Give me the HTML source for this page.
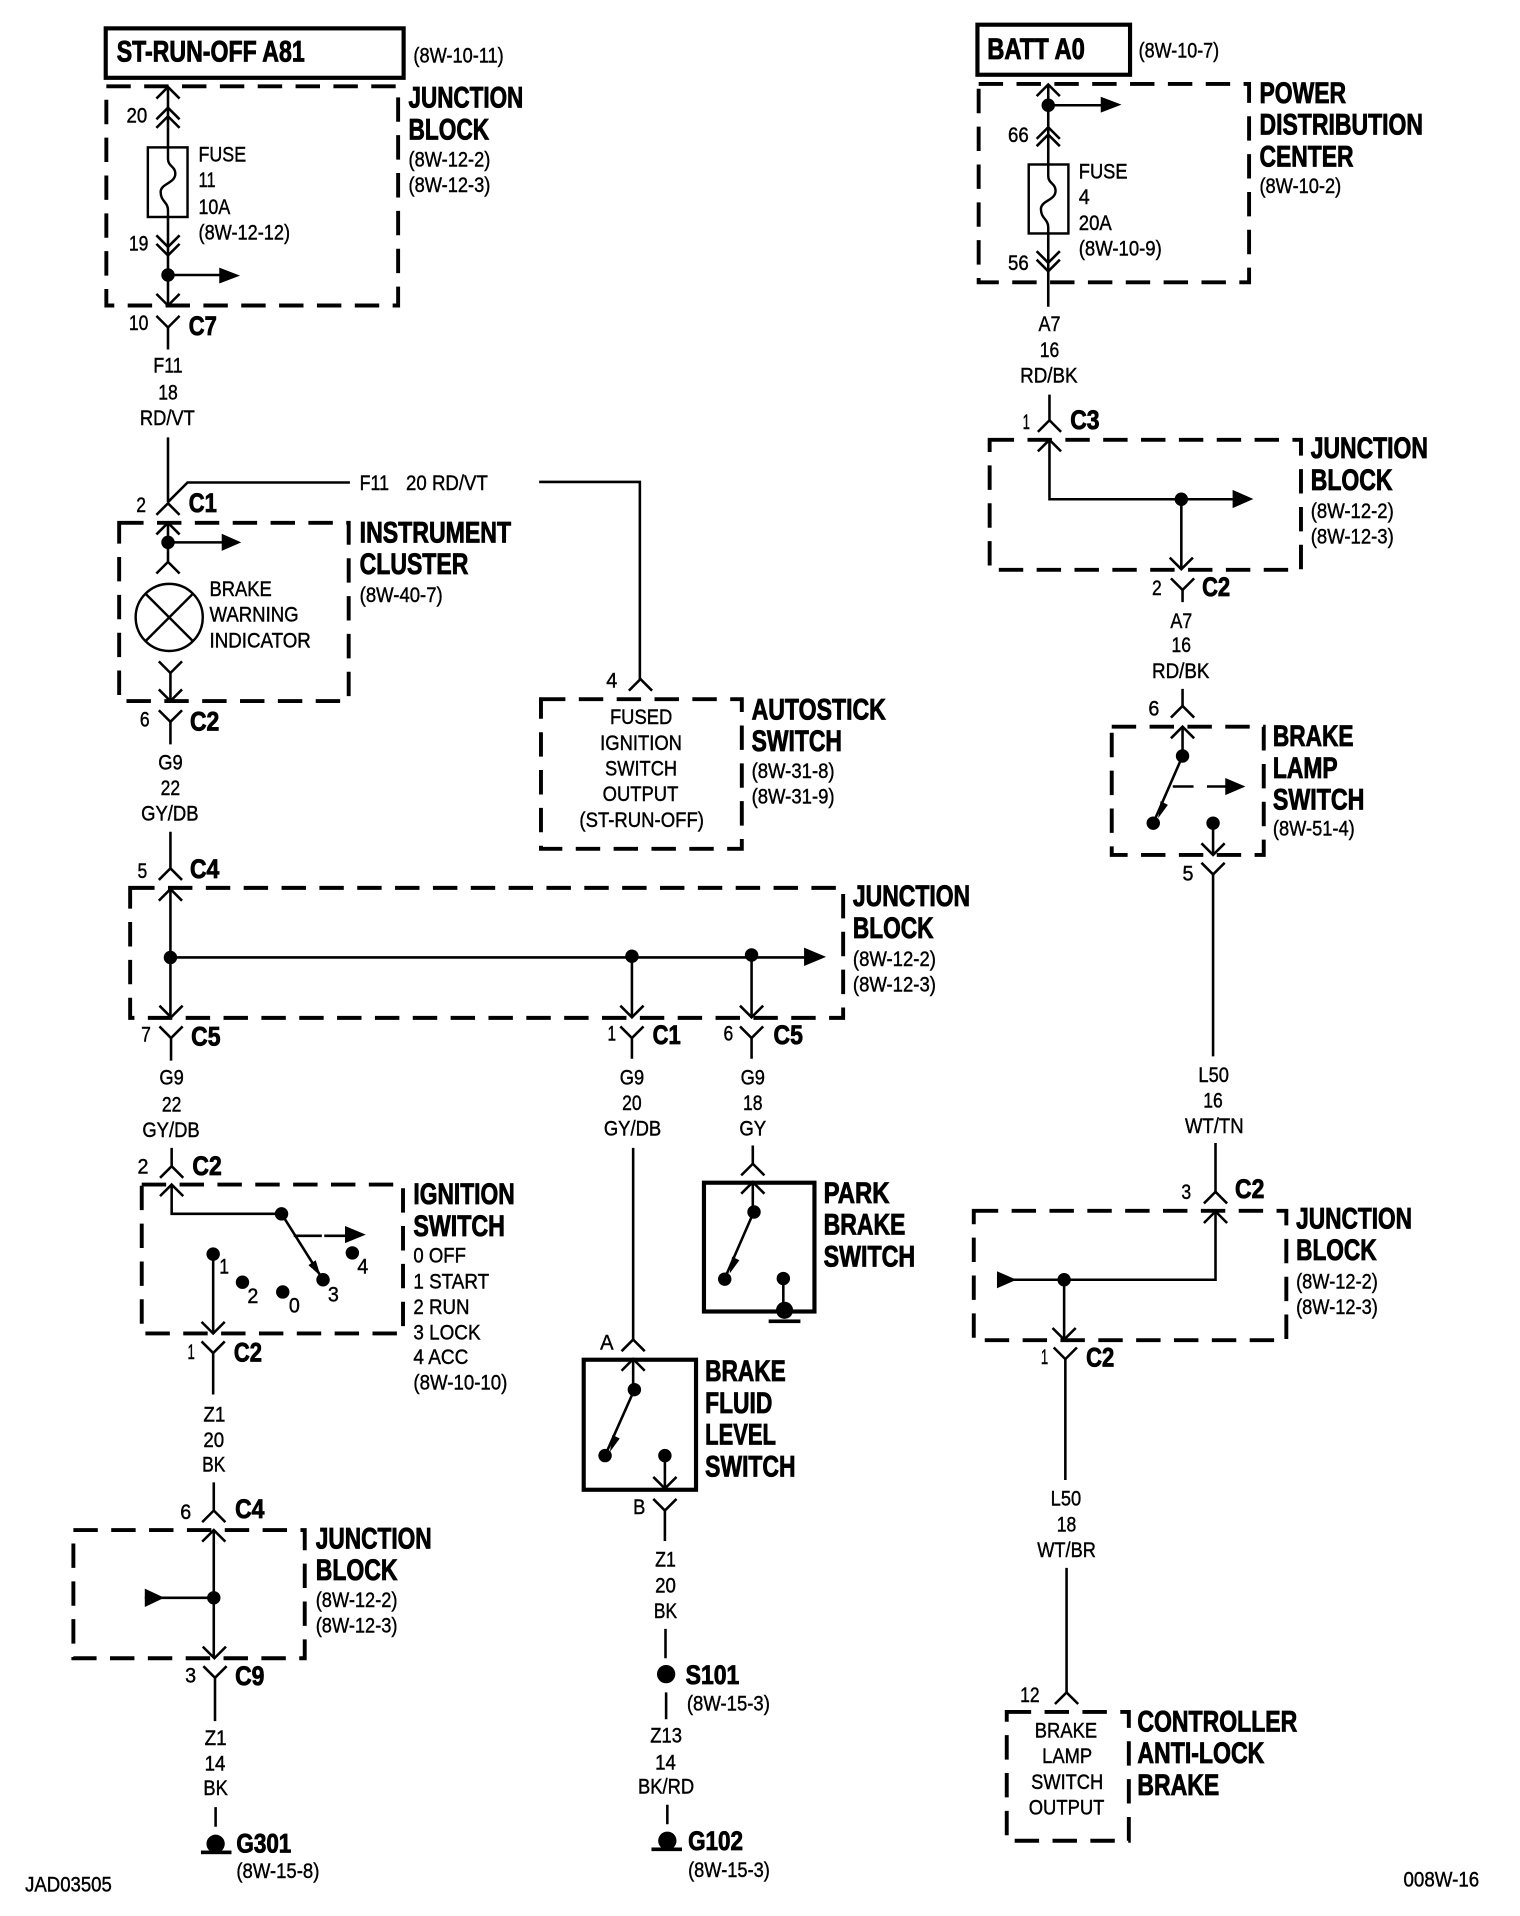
<!DOCTYPE html>
<html><head><meta charset="utf-8">
<style>
html,body{margin:0;padding:0;background:#fff}
svg{display:block}
text{font-family:"Liberation Sans",sans-serif;fill:#000;stroke:none;white-space:pre}
.b{font-weight:bold;font-size:24px;stroke:#000;stroke-width:.7px}
.c{font-weight:bold;font-size:22px;stroke:#000;stroke-width:.7px}
.s{font-size:17.5px;stroke:#000;stroke-width:.35px}
.w{fill:none;stroke:#000;stroke-width:2.1}
.d{fill:none;stroke:#000;stroke-width:3.2;stroke-dasharray:20 11}
.r{fill:none;stroke:#000;stroke-width:3.4}
.f{fill:none;stroke:#000;stroke-width:2}
</style></head>
<body>
<svg xmlns="http://www.w3.org/2000/svg" width="1520" height="1916" viewBox="0 0 1245 1569.3">
<rect width="1245" height="1570" fill="#fff"/>
<defs>
<path id="u" d="M-9.5 9.5L0 0L9.5 9.5" fill="none" stroke="#000" stroke-width="2.1"/>
<path id="v" d="M-9.5 -9.5L0 0L9.5 -9.5" fill="none" stroke="#000" stroke-width="2.1"/>
<path id="wave" d="M0 0V10C0 16 6 16 6 22C6 30 -6 30 -6 37C-6 45 0 45 0 52V57" fill="none" stroke="#000" stroke-width="2"/>
</defs>
<g transform="translate(.6 .2)">

<!-- dashed boxes -->
<rect class="d" x="86.5" y="70.5" width="239" height="179.5"/>
<rect class="d" x="97" y="428" width="188" height="146"/>
<rect class="d" x="442.5" y="572.5" width="164.5" height="122.5"/>
<rect class="d" x="106" y="727" width="584" height="106.5"/>
<rect class="d" x="115.5" y="970" width="214" height="122"/>
<rect class="d" x="59.5" y="1253" width="189.5" height="105"/>
<rect class="d" x="801" y="68.5" width="221.5" height="162.5"/>
<rect class="d" x="810" y="360" width="255" height="106.5"/>
<rect class="d" x="910" y="595" width="124.5" height="105"/>
<rect class="d" x="797" y="991.5" width="256" height="106"/>
<rect class="d" x="824" y="1402" width="100" height="105.5"/>

<!-- solid boxes -->
<rect class="r" x="86" y="23" width="244" height="40.5"/>
<rect class="r" x="800" y="20" width="125" height="41"/>
<rect class="r" x="477.5" y="1113.5" width="92" height="106.5"/>
<rect class="r" x="576" y="968.5" width="90.5" height="105.5"/>
<rect class="f" x="120.5" y="120.5" width="32.5" height="57" />
<rect class="f" x="842" y="134.5" width="32.5" height="56.5"/>
<circle class="f" cx="138" cy="505.5" r="27.5"/>
<path class="f" d="M118.5 486L157.5 525M157.5 486L118.5 525"/>

<!-- wires -->
<path class="w" d="M137 71V120M137 177V250M137 225H180M137 268V286M137 358V411M137 411L153 395H286M441 394.5H523.5V556
M137 428V460M137 444H183M139 551V574M139 591V609.5M139 681V711M139 728V833H139.5M139 784H660M517 783V833M615 783V833
M139.5 850V868.5M517 850V867M615 850V867M140 940V955M140 970V994H230M230 994L264 1048M174 1027V1092M174 1108V1142
M174.5 1214V1237M174.5 1253V1358M118 1308.5H174.5M175.5 1374V1409.5M176 1480V1496M518 940V1097M518 1113V1138M519 1138L495 1192M544 1192V1219M544 1237V1262
M544.5 1334V1358M545 1386V1408M546 1478V1494M616 938V953M616 968V992M617 992L593 1047M641 1047V1073
M858 69V134M858 191V251M858 86H903M859 323V344M859 360V408.7H1010M967 408.7V466M968 483V493M968 564V578M968 595V619M968 619L944 674M993 674V700M993 716V865
M995 936V976M995 992V1048H820M871 1048V1097M872 1113V1212M873 1284V1386"/>
<use href="#wave" x="137" y="120"/>
<use href="#wave" x="858" y="134"/>
<path d="M240 1012H263M265 1012H283M960 644H977M988 644H1004" class="w"/>

<!-- connector chevrons -->
<use href="#u" x="137" y="71"/><use href="#u" x="137" y="88"/><use href="#u" x="137" y="95"/><use href="#u" x="137" y="412"/><use href="#u" x="137" y="428"/><use href="#u" x="137" y="460"/>
<use href="#u" x="524" y="556"/><use href="#u" x="139" y="711"/><use href="#u" x="139" y="728"/><use href="#u" x="140" y="955"/><use href="#u" x="140" y="970"/>
<use href="#u" x="174.5" y="1237"/><use href="#u" x="174.5" y="1253"/><use href="#u" x="518" y="1097"/><use href="#u" x="518" y="1113"/><use href="#u" x="616" y="953"/><use href="#u" x="616" y="968"/>
<use href="#u" x="858" y="69"/><use href="#u" x="858" y="104"/><use href="#u" x="858" y="110"/><use href="#u" x="859" y="344"/><use href="#u" x="859" y="360"/>
<use href="#u" x="968" y="578"/><use href="#u" x="968" y="595"/><use href="#u" x="995" y="976"/><use href="#u" x="995" y="992"/><use href="#u" x="873" y="1386"/>
<use href="#v" x="137" y="202"/><use href="#v" x="137" y="209"/><use href="#v" x="137" y="250"/><use href="#v" x="137" y="268"/><use href="#v" x="139" y="551"/><use href="#v" x="139" y="574"/><use href="#v" x="139" y="591"/>
<use href="#v" x="139.5" y="833"/><use href="#v" x="517" y="833"/><use href="#v" x="615" y="833"/><use href="#v" x="139.5" y="850"/><use href="#v" x="517" y="850"/><use href="#v" x="615" y="850"/>
<use href="#v" x="174" y="1092"/><use href="#v" x="174" y="1108"/><use href="#v" x="175" y="1358"/><use href="#v" x="175.5" y="1374"/><use href="#v" x="544" y="1219"/><use href="#v" x="544" y="1237"/>
<use href="#v" x="858" y="215"/><use href="#v" x="858" y="222"/><use href="#v" x="967" y="466"/><use href="#v" x="968" y="483"/><use href="#v" x="993" y="700"/><use href="#v" x="993" y="716"/><use href="#v" x="871" y="1097"/><use href="#v" x="872" y="1113"/>

<!-- dots and arrowheads -->
<g fill="#000">
<circle cx="137" cy="225" r="5.5"/><circle cx="137" cy="444" r="5.5"/><circle cx="139" cy="784" r="5.5"/><circle cx="517" cy="783" r="5.5"/><circle cx="615" cy="782" r="5.5"/>
<circle cx="230" cy="994" r="5.5"/><circle cx="264" cy="1048" r="5.5"/><circle cx="174" cy="1027" r="5.5"/><circle cx="198" cy="1050" r="5.5"/><circle cx="231" cy="1058" r="5.5"/><circle cx="288" cy="1026" r="5.5"/>
<circle cx="174.5" cy="1308.5" r="5.5"/><circle cx="519" cy="1138" r="5.5"/><circle cx="495" cy="1192" r="5.5"/><circle cx="544" cy="1192" r="5.5"/>
<circle cx="617" cy="992.5" r="5.5"/><circle cx="593" cy="1047.5" r="5.5"/><circle cx="641" cy="1047" r="5.5"/><circle cx="545" cy="1371" r="7.5"/>
<circle cx="858" cy="86" r="5.5"/><circle cx="967" cy="408.7" r="5.5"/><circle cx="968" cy="619" r="5.5"/><circle cx="944" cy="674" r="5.5"/><circle cx="993" cy="674" r="5.5"/><circle cx="871" cy="1048" r="5.5"/>
<path d="M179 219L196 225.5L179 232ZM181 437L197 444L181 451ZM658 776L676 783.5L658 791ZM282 1004L299 1011L282 1018ZM118 1301L134 1308.5L118 1316ZM901 79L918 85.5L901 92ZM1009 401L1026 408.5L1009 416ZM1003 637L1019.5 644L1003 651ZM816 1041L832 1048L816 1055Z"/>
<path d="M262 1045L252 1036L258 1032ZM948 670L950 656L956 659ZM499 1189L501 1175L507 1178ZM597 1043L599 1029L605 1032Z"/>
<circle cx="176" cy="1510" r="7.5"/><circle cx="546" cy="1507.5" r="7.5"/><circle cx="642" cy="1073" r="7"/>
<rect x="164" y="1515.5" width="25" height="3"/><rect x="533" y="1513" width="25" height="3"/><rect x="629" y="1080.5" width="26" height="3"/>
</g>

<!-- bold labels -->
<g class="B">
<text class="b" x="95" y="50" textLength="154" lengthAdjust="spacingAndGlyphs">ST-RUN-OFF A81</text>
<text class="b" x="334" y="88" textLength="94" lengthAdjust="spacingAndGlyphs">JUNCTION</text>
<text class="b" x="334" y="114" textLength="66" lengthAdjust="spacingAndGlyphs">BLOCK</text>
<text class="b" x="294" y="444" textLength="124" lengthAdjust="spacingAndGlyphs">INSTRUMENT</text>
<text class="b" x="294" y="470" textLength="89" lengthAdjust="spacingAndGlyphs">CLUSTER</text>
<text class="b" x="615" y="589" textLength="110" lengthAdjust="spacingAndGlyphs">AUTOSTICK</text>
<text class="b" x="615" y="615" textLength="74" lengthAdjust="spacingAndGlyphs">SWITCH</text>
<text class="b" x="698" y="742" textLength="96" lengthAdjust="spacingAndGlyphs">JUNCTION</text>
<text class="b" x="698" y="768" textLength="66" lengthAdjust="spacingAndGlyphs">BLOCK</text>
<text class="b" x="338" y="986" textLength="83" lengthAdjust="spacingAndGlyphs">IGNITION</text>
<text class="b" x="338" y="1012" textLength="75" lengthAdjust="spacingAndGlyphs">SWITCH</text>
<text class="b" x="674" y="985" textLength="54" lengthAdjust="spacingAndGlyphs">PARK</text>
<text class="b" x="674" y="1011" textLength="67" lengthAdjust="spacingAndGlyphs">BRAKE</text>
<text class="b" x="674" y="1037" textLength="75" lengthAdjust="spacingAndGlyphs">SWITCH</text>
<text class="b" x="577" y="1131" textLength="66" lengthAdjust="spacingAndGlyphs">BRAKE</text>
<text class="b" x="577" y="1157" textLength="55" lengthAdjust="spacingAndGlyphs">FLUID</text>
<text class="b" x="577" y="1183" textLength="58" lengthAdjust="spacingAndGlyphs">LEVEL</text>
<text class="b" x="577" y="1209" textLength="74" lengthAdjust="spacingAndGlyphs">SWITCH</text>
<text class="b" x="258" y="1268" textLength="95" lengthAdjust="spacingAndGlyphs">JUNCTION</text>
<text class="b" x="258" y="1294" textLength="67" lengthAdjust="spacingAndGlyphs">BLOCK</text>
<text class="b" x="808" y="48" textLength="80" lengthAdjust="spacingAndGlyphs">BATT A0</text>
<text class="b" x="1031" y="84" textLength="71" lengthAdjust="spacingAndGlyphs">POWER</text>
<text class="b" x="1031" y="110" textLength="134" lengthAdjust="spacingAndGlyphs">DISTRIBUTION</text>
<text class="b" x="1031" y="136" textLength="77" lengthAdjust="spacingAndGlyphs">CENTER</text>
<text class="b" x="1073" y="375" textLength="96" lengthAdjust="spacingAndGlyphs">JUNCTION</text>
<text class="b" x="1073" y="401" textLength="67" lengthAdjust="spacingAndGlyphs">BLOCK</text>
<text class="b" x="1042" y="611" textLength="66" lengthAdjust="spacingAndGlyphs">BRAKE</text>
<text class="b" x="1042" y="637" textLength="53" lengthAdjust="spacingAndGlyphs">LAMP</text>
<text class="b" x="1042" y="663" textLength="75" lengthAdjust="spacingAndGlyphs">SWITCH</text>
<text class="b" x="1061" y="1006" textLength="95" lengthAdjust="spacingAndGlyphs">JUNCTION</text>
<text class="b" x="1061" y="1032" textLength="66" lengthAdjust="spacingAndGlyphs">BLOCK</text>
<text class="b" x="931" y="1418" textLength="131" lengthAdjust="spacingAndGlyphs">CONTROLLER</text>
<text class="b" x="931" y="1444" textLength="104" lengthAdjust="spacingAndGlyphs">ANTI-LOCK</text>
<text class="b" x="931" y="1470" textLength="67" lengthAdjust="spacingAndGlyphs">BRAKE</text>
</g>

<!-- connector IDs -->
<g>
<text class="c" x="154" y="274" textLength="23" lengthAdjust="spacingAndGlyphs">C7</text>
<text class="c" x="154" y="419" textLength="23" lengthAdjust="spacingAndGlyphs">C1</text>
<text class="c" x="155" y="598" textLength="24" lengthAdjust="spacingAndGlyphs">C2</text>
<text class="c" x="155" y="719" textLength="24" lengthAdjust="spacingAndGlyphs">C4</text>
<text class="c" x="156" y="856" textLength="24" lengthAdjust="spacingAndGlyphs">C5</text>
<text class="c" x="534" y="855" textLength="23" lengthAdjust="spacingAndGlyphs">C1</text>
<text class="c" x="633" y="855" textLength="24" lengthAdjust="spacingAndGlyphs">C5</text>
<text class="c" x="157" y="962" textLength="24" lengthAdjust="spacingAndGlyphs">C2</text>
<text class="c" x="191" y="1115" textLength="23" lengthAdjust="spacingAndGlyphs">C2</text>
<text class="c" x="192" y="1243" textLength="24" lengthAdjust="spacingAndGlyphs">C4</text>
<text class="c" x="192" y="1380" textLength="24" lengthAdjust="spacingAndGlyphs">C9</text>
<text class="c" x="193" y="1517" textLength="45" lengthAdjust="spacingAndGlyphs">G301</text>
<text class="c" x="561" y="1379" textLength="44" lengthAdjust="spacingAndGlyphs">S101</text>
<text class="c" x="563" y="1515" textLength="45" lengthAdjust="spacingAndGlyphs">G102</text>
<text class="c" x="876" y="351" textLength="24" lengthAdjust="spacingAndGlyphs">C3</text>
<text class="c" x="984" y="488" textLength="23" lengthAdjust="spacingAndGlyphs">C2</text>
<text class="c" x="1011" y="981" textLength="24" lengthAdjust="spacingAndGlyphs">C2</text>
<text class="c" x="889" y="1119" textLength="23" lengthAdjust="spacingAndGlyphs">C2</text>
</g>

<!-- small text -->
<g>
<text class="s" x="338" y="51" textLength="74" lengthAdjust="spacingAndGlyphs">(8W-10-11)</text>
<text class="s" x="334" y="136" textLength="67" lengthAdjust="spacingAndGlyphs">(8W-12-2)</text>
<text class="s" x="334" y="157" textLength="67" lengthAdjust="spacingAndGlyphs">(8W-12-3)</text>
<text class="s" x="103" y="100" textLength="17" lengthAdjust="spacingAndGlyphs">20</text>
<text class="s" x="105" y="205" textLength="16" lengthAdjust="spacingAndGlyphs">19</text>
<text class="s" x="162" y="132" textLength="39" lengthAdjust="spacingAndGlyphs">FUSE</text>
<text class="s" x="162" y="153" textLength="14" lengthAdjust="spacingAndGlyphs">11</text>
<text class="s" x="162" y="175" textLength="26" lengthAdjust="spacingAndGlyphs">10A</text>
<text class="s" x="162" y="196" textLength="75" lengthAdjust="spacingAndGlyphs">(8W-12-12)</text>
<text class="s" x="105" y="270" textLength="16" lengthAdjust="spacingAndGlyphs">10</text>
<text class="s" x="125" y="305" textLength="24" lengthAdjust="spacingAndGlyphs">F11</text>
<text class="s" x="129" y="327" textLength="16" lengthAdjust="spacingAndGlyphs">18</text>
<text class="s" x="114" y="348" textLength="45" lengthAdjust="spacingAndGlyphs">RD/VT</text>
<text class="s" x="294" y="401" textLength="24" lengthAdjust="spacingAndGlyphs">F11</text>
<text class="s" x="332" y="401" textLength="67" lengthAdjust="spacingAndGlyphs">20 RD/VT</text>
<text class="s" x="111" y="419" textLength="8" lengthAdjust="spacingAndGlyphs">2</text>
<text class="s" x="294" y="493" textLength="68" lengthAdjust="spacingAndGlyphs">(8W-40-7)</text>
<text class="s" x="171" y="488" textLength="51" lengthAdjust="spacingAndGlyphs">BRAKE</text>
<text class="s" x="171" y="509" textLength="73" lengthAdjust="spacingAndGlyphs">WARNING</text>
<text class="s" x="171" y="530" textLength="83" lengthAdjust="spacingAndGlyphs">INDICATOR</text>
<text class="s" x="114" y="595" textLength="8" lengthAdjust="spacingAndGlyphs">6</text>
<text class="s" x="129" y="630" textLength="20" lengthAdjust="spacingAndGlyphs">G9</text>
<text class="s" x="131" y="651" textLength="16" lengthAdjust="spacingAndGlyphs">22</text>
<text class="s" x="115" y="672" textLength="47" lengthAdjust="spacingAndGlyphs">GY/DB</text>
<text class="s" x="112" y="719" textLength="8" lengthAdjust="spacingAndGlyphs">5</text>
<text class="s" x="496" y="563" textLength="9" lengthAdjust="spacingAndGlyphs">4</text>
<text class="s" x="499" y="593" textLength="51" lengthAdjust="spacingAndGlyphs">FUSED</text>
<text class="s" x="491" y="614" textLength="67" lengthAdjust="spacingAndGlyphs">IGNITION</text>
<text class="s" x="495" y="635" textLength="59" lengthAdjust="spacingAndGlyphs">SWITCH</text>
<text class="s" x="493" y="656" textLength="62" lengthAdjust="spacingAndGlyphs">OUTPUT</text>
<text class="s" x="474" y="677" textLength="102" lengthAdjust="spacingAndGlyphs">(ST-RUN-OFF)</text>
<text class="s" x="615" y="637" textLength="68" lengthAdjust="spacingAndGlyphs">(8W-31-8)</text>
<text class="s" x="615" y="658" textLength="68" lengthAdjust="spacingAndGlyphs">(8W-31-9)</text>
<text class="s" x="698" y="791" textLength="68" lengthAdjust="spacingAndGlyphs">(8W-12-2)</text>
<text class="s" x="698" y="812" textLength="68" lengthAdjust="spacingAndGlyphs">(8W-12-3)</text>
<text class="s" x="115" y="853" textLength="8" lengthAdjust="spacingAndGlyphs">7</text>
<text class="s" x="497" y="852" textLength="7" lengthAdjust="spacingAndGlyphs">1</text>
<text class="s" x="592" y="852" textLength="8" lengthAdjust="spacingAndGlyphs">6</text>
<text class="s" x="130" y="888" textLength="20" lengthAdjust="spacingAndGlyphs">G9</text>
<text class="s" x="132" y="910" textLength="16" lengthAdjust="spacingAndGlyphs">22</text>
<text class="s" x="116" y="931" textLength="47" lengthAdjust="spacingAndGlyphs">GY/DB</text>
<text class="s" x="507" y="888" textLength="20" lengthAdjust="spacingAndGlyphs">G9</text>
<text class="s" x="509" y="909" textLength="16" lengthAdjust="spacingAndGlyphs">20</text>
<text class="s" x="494" y="930" textLength="47" lengthAdjust="spacingAndGlyphs">GY/DB</text>
<text class="s" x="606" y="888" textLength="20" lengthAdjust="spacingAndGlyphs">G9</text>
<text class="s" x="608" y="909" textLength="16" lengthAdjust="spacingAndGlyphs">18</text>
<text class="s" x="605" y="930" textLength="22" lengthAdjust="spacingAndGlyphs">GY</text>
<text class="s" x="112" y="961" textLength="9" lengthAdjust="spacingAndGlyphs">2</text>
<text class="s" x="179" y="1043" textLength="8" lengthAdjust="spacingAndGlyphs">1</text>
<text class="s" x="202" y="1067" textLength="9" lengthAdjust="spacingAndGlyphs">2</text>
<text class="s" x="236" y="1075" textLength="9" lengthAdjust="spacingAndGlyphs">0</text>
<text class="s" x="268" y="1066" textLength="9" lengthAdjust="spacingAndGlyphs">3</text>
<text class="s" x="292" y="1043" textLength="9" lengthAdjust="spacingAndGlyphs">4</text>
<text class="s" x="338" y="1034" textLength="43" lengthAdjust="spacingAndGlyphs">0 OFF</text>
<text class="s" x="338" y="1055" textLength="62" lengthAdjust="spacingAndGlyphs">1 START</text>
<text class="s" x="338" y="1076" textLength="46" lengthAdjust="spacingAndGlyphs">2 RUN</text>
<text class="s" x="338" y="1097" textLength="55" lengthAdjust="spacingAndGlyphs">3 LOCK</text>
<text class="s" x="338" y="1117" textLength="45" lengthAdjust="spacingAndGlyphs">4 ACC</text>
<text class="s" x="338" y="1138" textLength="77" lengthAdjust="spacingAndGlyphs">(8W-10-10)</text>
<text class="s" x="153" y="1113" textLength="6" lengthAdjust="spacingAndGlyphs">1</text>
<text class="s" x="166" y="1164" textLength="18" lengthAdjust="spacingAndGlyphs">Z1</text>
<text class="s" x="166" y="1185" textLength="17" lengthAdjust="spacingAndGlyphs">20</text>
<text class="s" x="165" y="1205" textLength="19" lengthAdjust="spacingAndGlyphs">BK</text>
<text class="s" x="147" y="1244" textLength="9" lengthAdjust="spacingAndGlyphs">6</text>
<text class="s" x="258" y="1316" textLength="67" lengthAdjust="spacingAndGlyphs">(8W-12-2)</text>
<text class="s" x="258" y="1337" textLength="67" lengthAdjust="spacingAndGlyphs">(8W-12-3)</text>
<text class="s" x="151" y="1378" textLength="9" lengthAdjust="spacingAndGlyphs">3</text>
<text class="s" x="167" y="1429" textLength="18" lengthAdjust="spacingAndGlyphs">Z1</text>
<text class="s" x="167" y="1450" textLength="17" lengthAdjust="spacingAndGlyphs">14</text>
<text class="s" x="166" y="1470" textLength="20" lengthAdjust="spacingAndGlyphs">BK</text>
<text class="s" x="193" y="1538" textLength="68" lengthAdjust="spacingAndGlyphs">(8W-15-8)</text>
<text class="s" x="20" y="1549" textLength="71" lengthAdjust="spacingAndGlyphs">JAD03505</text>
<text class="s" x="491" y="1105" textLength="11" lengthAdjust="spacingAndGlyphs">A</text>
<text class="s" x="518" y="1240" textLength="10" lengthAdjust="spacingAndGlyphs">B</text>
<text class="s" x="536" y="1283" textLength="17" lengthAdjust="spacingAndGlyphs">Z1</text>
<text class="s" x="536" y="1304" textLength="17" lengthAdjust="spacingAndGlyphs">20</text>
<text class="s" x="535" y="1325" textLength="19" lengthAdjust="spacingAndGlyphs">BK</text>
<text class="s" x="562" y="1401" textLength="68" lengthAdjust="spacingAndGlyphs">(8W-15-3)</text>
<text class="s" x="532" y="1427" textLength="26" lengthAdjust="spacingAndGlyphs">Z13</text>
<text class="s" x="536" y="1449" textLength="17" lengthAdjust="spacingAndGlyphs">14</text>
<text class="s" x="522" y="1469" textLength="46" lengthAdjust="spacingAndGlyphs">BK/RD</text>
<text class="s" x="563" y="1537" textLength="67" lengthAdjust="spacingAndGlyphs">(8W-15-3)</text>
<text class="s" x="932" y="47" textLength="66" lengthAdjust="spacingAndGlyphs">(8W-10-7)</text>
<text class="s" x="825" y="116" textLength="17" lengthAdjust="spacingAndGlyphs">66</text>
<text class="s" x="825" y="221" textLength="17" lengthAdjust="spacingAndGlyphs">56</text>
<text class="s" x="883" y="146" textLength="40" lengthAdjust="spacingAndGlyphs">FUSE</text>
<text class="s" x="883" y="167" textLength="9" lengthAdjust="spacingAndGlyphs">4</text>
<text class="s" x="883" y="188" textLength="27" lengthAdjust="spacingAndGlyphs">20A</text>
<text class="s" x="883" y="209" textLength="68" lengthAdjust="spacingAndGlyphs">(8W-10-9)</text>
<text class="s" x="1031" y="158" textLength="67" lengthAdjust="spacingAndGlyphs">(8W-10-2)</text>
<text class="s" x="850" y="271" textLength="18" lengthAdjust="spacingAndGlyphs">A7</text>
<text class="s" x="851" y="292" textLength="16" lengthAdjust="spacingAndGlyphs">16</text>
<text class="s" x="835" y="313" textLength="47" lengthAdjust="spacingAndGlyphs">RD/BK</text>
<text class="s" x="837" y="351" textLength="6" lengthAdjust="spacingAndGlyphs">1</text>
<text class="s" x="1073" y="424" textLength="68" lengthAdjust="spacingAndGlyphs">(8W-12-2)</text>
<text class="s" x="1073" y="445" textLength="68" lengthAdjust="spacingAndGlyphs">(8W-12-3)</text>
<text class="s" x="943" y="487" textLength="8" lengthAdjust="spacingAndGlyphs">2</text>
<text class="s" x="958" y="514" textLength="18" lengthAdjust="spacingAndGlyphs">A7</text>
<text class="s" x="959" y="534" textLength="16" lengthAdjust="spacingAndGlyphs">16</text>
<text class="s" x="943" y="555" textLength="47" lengthAdjust="spacingAndGlyphs">RD/BK</text>
<text class="s" x="940" y="586" textLength="9" lengthAdjust="spacingAndGlyphs">6</text>
<text class="s" x="1042" y="684" textLength="67" lengthAdjust="spacingAndGlyphs">(8W-51-4)</text>
<text class="s" x="968" y="721" textLength="9" lengthAdjust="spacingAndGlyphs">5</text>
<text class="s" x="981" y="886" textLength="25" lengthAdjust="spacingAndGlyphs">L50</text>
<text class="s" x="985" y="907" textLength="16" lengthAdjust="spacingAndGlyphs">16</text>
<text class="s" x="970" y="928" textLength="48" lengthAdjust="spacingAndGlyphs">WT/TN</text>
<text class="s" x="967" y="982" textLength="8" lengthAdjust="spacingAndGlyphs">3</text>
<text class="s" x="1061" y="1055" textLength="67" lengthAdjust="spacingAndGlyphs">(8W-12-2)</text>
<text class="s" x="1061" y="1076" textLength="67" lengthAdjust="spacingAndGlyphs">(8W-12-3)</text>
<text class="s" x="852" y="1117" textLength="6" lengthAdjust="spacingAndGlyphs">1</text>
<text class="s" x="860" y="1233" textLength="25" lengthAdjust="spacingAndGlyphs">L50</text>
<text class="s" x="865" y="1254" textLength="16" lengthAdjust="spacingAndGlyphs">18</text>
<text class="s" x="849" y="1275" textLength="48" lengthAdjust="spacingAndGlyphs">WT/BR</text>
<text class="s" x="835" y="1394" textLength="16" lengthAdjust="spacingAndGlyphs">12</text>
<text class="s" x="847" y="1423" textLength="51" lengthAdjust="spacingAndGlyphs">BRAKE</text>
<text class="s" x="853" y="1444" textLength="41" lengthAdjust="spacingAndGlyphs">LAMP</text>
<text class="s" x="844" y="1465" textLength="59" lengthAdjust="spacingAndGlyphs">SWITCH</text>
<text class="s" x="842" y="1486" textLength="62" lengthAdjust="spacingAndGlyphs">OUTPUT</text>
<text class="s" x="1149" y="1545" textLength="62" lengthAdjust="spacingAndGlyphs">008W-16</text>
</g>
</g>
</svg>
</body></html>
